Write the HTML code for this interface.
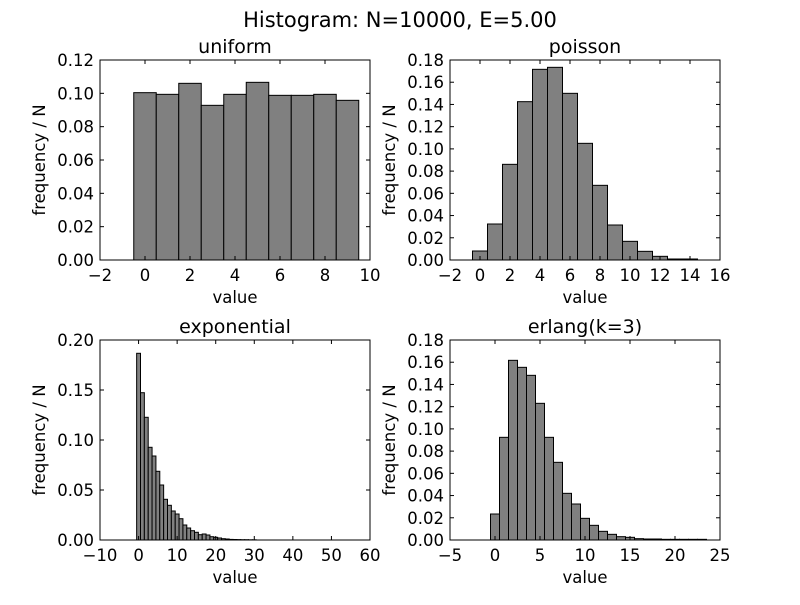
<!DOCTYPE html>
<html><head><meta charset="utf-8"><style>
body{margin:0;background:#fff;}
svg text{font-family:"DejaVu Sans","Liberation Sans",sans-serif;fill:#000;}
</style></head><body>
<svg id="c" width="800" height="600" xmlns="http://www.w3.org/2000/svg">
<rect width="800" height="600" fill="#fff"/>
<text x="400" y="27" font-size="21" text-anchor="middle">Histogram: N=10000, E=5.00</text>
</svg>
<script>
const uniformValues=[0.1004,0.0994,0.106,0.0928,0.0994,0.1066,0.0988,0.0988,0.0994,0.0958];
const poissonValues=[0.0081,0.0324,0.0861,0.1425,0.1716,0.1734,0.150,0.105,0.0672,0.0315,0.0168,0.0078,0.0033,0.0009,0.0009];
const exponentialValues=[0.1867,0.1473,0.1227,0.0927,0.084,0.0687,0.055,0.0407,0.0347,0.029,0.026,0.0213,0.015,0.012,0.0093,0.0077,0.0053,0.006,0.005,0.0033,0.0027,0.002,0.0013,0.001,0.0006,0.0005,0.0004,0.0003,0.0003,0.0002,0.0002];
const erlangValues=[0.0234,0.0924,0.1617,0.1554,0.1482,0.123,0.0924,0.0699,0.042,0.0324,0.0195,0.0132,0.0078,0.0051,0.003,0.0024,0.0012,0.0009,0.0009,0.0006,0.0006,0.0006,0.0006,0.0006];
const uniformXTicks=[-2,0,2,4,6,8,10];
const uniformYTicks=[0,0.02,0.04,0.06,0.08,0.10,0.12];
const poissonXTicks=[-2,0,2,4,6,8,10,12,14,16];
const poissonYTicks=[0,0.02,0.04,0.06,0.08,0.10,0.12,0.14,0.16,0.18];
const expXTicks=[-10,0,10,20,30,40,50,60];
const expYTicks=[0,0.05,0.10,0.15,0.20];
const erlangXTicks=[-5,0,5,10,15,20,25];
const erlangYTicks=[0,0.02,0.04,0.06,0.08,0.10,0.12,0.14,0.16,0.18];
const binStart=-0.5, binWidth=1;

const svg=document.getElementById('c');
const NS='http://www.w3.org/2000/svg';
function mk(tag,attrs,parent){const e=document.createElementNS(NS,tag);for(const k in attrs)e.setAttribute(k,attrs[k]);(parent||svg).appendChild(e);return e;}

function panel(name,title,L,T,W,H,xt,yt,vals){
  const x0=xt[0],x1=xt[xt.length-1],y1=yt[yt.length-1];
  const sx=v=>L+(v-x0)/(x1-x0)*W, sy=v=>T+H-v/y1*H;
  const g=mk('g',{});
  
  
  vals.forEach((v,i)=>{
    const a=sx(binStart+i*binWidth), b=sx(binStart+(i+1)*binWidth);
    const r=mk('rect',{x:a,y:sy(v),width:b-a,height:sy(0)-sy(v),fill:'#808080',stroke:'#000','stroke-width':1},g);
    
    
  });
  const f=mk('rect',{x:L,y:T,width:W,height:H,fill:'none',stroke:'#000','stroke-width':1},g);
  
  
  xt.forEach(v=>{
    const x=sx(v);
    mk('line',{x1:x,x2:x,y1:T+H,y2:T+H-4,stroke:'#000'},g);
    mk('line',{x1:x,x2:x,y1:T,y2:T+4,stroke:'#000'},g);
    const t=mk('text',{x:x,y:T+H+21,'font-size':16.5,'text-anchor':'middle'},g);
    t.textContent=(v<0?'\u2212':'')+Math.abs(v);
    
    
  });
  yt.forEach(v=>{
    const y=sy(v);
    mk('line',{x1:L,x2:L+4,y1:y,y2:y,stroke:'#000'},g);
    mk('line',{x1:L+W,x2:L+W-4,y1:y,y2:y,stroke:'#000'},g);
    const t=mk('text',{x:L-6,y:y+6,'font-size':16.5,'text-anchor':'end'},g);
    t.textContent=v.toFixed(2);
    
    
  });
  const tt=mk('text',{x:L+W/2,y:T-7,'font-size':19,'text-anchor':'middle'},g);
  tt.textContent=title;
  
  
  const xl=mk('text',{x:L+W/2,y:T+H+43,'font-size':16.5,'text-anchor':'middle'},g);
  xl.textContent='value';
  
  
  const yx=L-55, yy=T+H/2;
  const yl=mk('text',{x:yx,y:yy,'font-size':16.5,'text-anchor':'middle',transform:'rotate(-90 '+yx+' '+yy+')'},g);
  yl.textContent='frequency / N';
  
  
}
panel('uniform','uniform',100,60,270,200,uniformXTicks,uniformYTicks,uniformValues);
panel('poisson','poisson',450,60,270,200,poissonXTicks,poissonYTicks,poissonValues);
panel('exponential','exponential',100,340,270,200,expXTicks,expYTicks,exponentialValues);
panel('erlang','erlang(k=3)',450,340,270,200,erlangXTicks,erlangYTicks,erlangValues);
</script>
</body></html>
